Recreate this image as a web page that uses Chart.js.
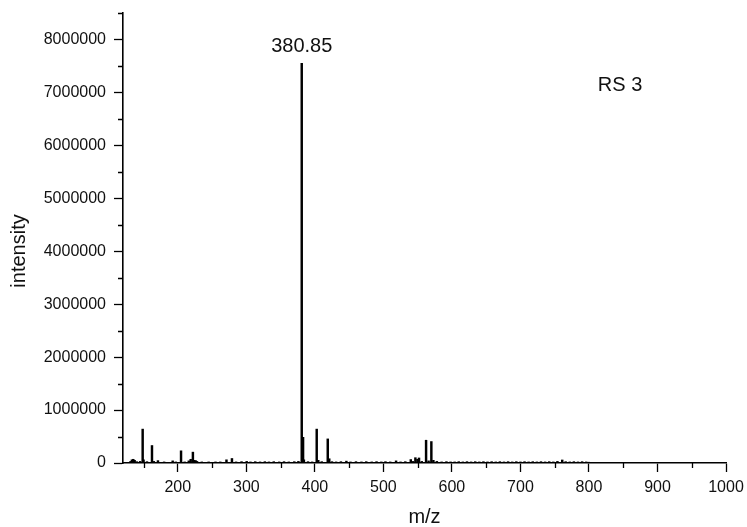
<!DOCTYPE html>
<html>
<head>
<meta charset="utf-8">
<script src="https://cdn.jsdelivr.net/npm/chart.js@4.4.1/dist/chart.umd.min.js"></script>
<style>
  body { margin: 0; background: #fff; }
  #wrap { width: 747px; height: 527px; }
</style>
</head>
<body>
<div id="wrap"><canvas id="myChart" width="747" height="527"></canvas></div>
<script>
// m/z of each stick and its intensity
const mzValues = [
    131, 133, 135, 137, 140, 145, 148.7, 150, 155, 162.3, 165, 171, 180, 192.5, 197,
    204.7, 210, 216, 218.8, 222, 224, 226, 228, 235, 245, 255, 262, 271, 279, 285,
    293, 300.5, 306, 313, 320, 327, 333, 340, 348, 355, 362, 370, 376, 380.85, 382.8,
    384, 390, 396, 402.7, 405, 410, 418.8, 421, 425, 431, 438, 446, 452, 460, 468,
    475, 483, 490, 497, 503, 510, 518.5, 525, 532, 540, 543, 546.7, 549.7, 552, 556,
    562.3, 566, 570, 573, 578, 585, 592, 598, 604, 610, 616, 622, 628, 634, 640,
    646, 652, 658, 664, 670, 676, 682, 688, 694, 700, 706, 712, 718, 724, 730,
    736, 742, 748, 754, 761, 766, 772, 778, 784, 790, 796, 800
];
const intensityValues = [
    30000, 60000, 70000, 50000, 25000, 30000, 640000, 60000, 25000, 330000, 30000, 45000, 20000, 40000, 20000,
    230000, 20000, 40000, 70000, 205000, 50000, 45000, 30000, 20000, 20000, 20000, 20000, 60000, 85000, 20000,
    25000, 30000, 20000, 25000, 20000, 25000, 20000, 25000, 20000, 25000, 20000, 25000, 30000, 7550000, 485000,
    60000, 25000, 20000, 640000, 50000, 25000, 455000, 80000, 25000, 20000, 25000, 35000, 20000, 25000, 20000,
    25000, 20000, 25000, 20000, 25000, 20000, 40000, 20000, 25000, 65000, 30000, 100000, 70000, 95000, 30000,
    430000, 40000, 405000, 50000, 30000, 20000, 25000, 20000, 20000, 25000, 20000, 25000, 20000, 25000, 20000,
    25000, 20000, 25000, 20000, 25000, 20000, 25000, 20000, 25000, 20000, 25000, 20000, 25000, 20000, 25000,
    20000, 25000, 20000, 30000, 57000, 25000, 20000, 25000, 20000, 25000, 20000, 15000
];
const xTicks = [200, 300, 400, 500, 600, 700, 800, 900, 1000];
const yTicks = [0, 1000000, 2000000, 3000000, 4000000, 5000000, 6000000, 7000000, 8000000];
const xMinorTicks = [150, 250, 350, 450, 550, 650, 750, 850, 950];
const yMinorTicks = [500000, 1500000, 2500000, 3500000, 4500000, 5500000, 6500000, 7500000, 8500000];
const peakLabelMz = 380.85;
const peakLabelText = '380.85';
const sampleName = 'RS 3';
const xTitle = 'm/z';
const yTitle = 'intensity';

const points = mzValues.map((mz, i) => ({ x: mz, y: intensityValues[i] }));
const peakIntensity = intensityValues[mzValues.indexOf(peakLabelMz)];

const FONT = '"Liberation Sans", Arial, sans-serif';

const extras = {
    id: 'extras',
    afterDraw(chart) {
        const ctx = chart.ctx;
        const xs = chart.scales.x;
        const ys = chart.scales.y;
        const area = chart.chartArea;
        ctx.save();
        ctx.strokeStyle = '#000';
        ctx.lineWidth = 1.3;
        ctx.beginPath();
        yMinorTicks.forEach(v => {
            const py = Math.round(ys.getPixelForValue(v)) + 0.5;
            ctx.moveTo(area.left, py);
            ctx.lineTo(area.left - 5, py);
        });
        xMinorTicks.forEach(v => {
            const px = Math.round(xs.getPixelForValue(v)) + 0.5;
            ctx.moveTo(px, area.bottom);
            ctx.lineTo(px, area.bottom + 5);
        });
        ctx.stroke();

        ctx.fillStyle = '#111';
        ctx.font = '20px ' + FONT;
        ctx.textAlign = 'center';
        ctx.textBaseline = 'alphabetic';
        ctx.fillText(peakLabelText, xs.getPixelForValue(peakLabelMz), ys.getPixelForValue(peakIntensity) - 11);

        ctx.textAlign = 'left';
        ctx.fillText(sampleName, xs.getPixelForValue(813), ys.getPixelForValue(7030000));

        ctx.translate(19, 251);
        ctx.rotate(-Math.PI / 2);
        ctx.textAlign = 'center';
        ctx.textBaseline = 'middle';
        ctx.fillText(yTitle, 0, 0);
        ctx.restore();
    }
};

const ctx = document.getElementById('myChart').getContext('2d');
new Chart(ctx, {
    type: 'bar',
    data: {
        datasets: [{
            data: points,
            backgroundColor: '#000',
            borderWidth: 0,
            barThickness: 1.8
        }]
    },
    options: {
        responsive: false,
        animation: false,
        devicePixelRatio: 1,
        layout: { padding: { left: 0, top: 13, right: 21, bottom: 0 } },
        plugins: {
            legend: { display: false },
            tooltip: { enabled: false }
        },
        scales: {
            x: {
                type: 'linear',
                min: 120,
                max: 1000,
                offset: false,
                afterFit: scale => {
                    scale.height = 64;
                    scale.paddingLeft = 0;
                    scale.paddingRight = 0;
                },
                afterBuildTicks: scale => { scale.ticks = xTicks.map(v => ({ value: v })); },
                grid: {
                    offset: false,
                    drawOnChartArea: false,
                    drawTicks: true,
                    tickLength: 9,
                    tickWidth: 1.3,
                    tickColor: '#000'
                },
                border: { display: true, color: '#000', width: 1.6 },
                ticks: {
                    padding: 6,
                    color: '#111',
                    maxRotation: 0,
                    autoSkip: false,
                    callback: v => String(v),
                    font: { family: FONT, size: 16 }
                },
                title: {
                    display: true,
                    text: xTitle,
                    color: '#111',
                    padding: { top: 0, bottom: 0 },
                    font: { family: FONT, size: 20, lineHeight: 1 }
                }
            },
            y: {
                min: 0,
                max: 8500000,
                afterFit: scale => {
                    scale.width = 123;
                    scale.paddingTop = 0;
                    scale.paddingBottom = 0;
                },
                afterBuildTicks: scale => { scale.ticks = yTicks.map(v => ({ value: v })); },
                grid: {
                    drawOnChartArea: false,
                    drawTicks: true,
                    tickLength: 9,
                    tickWidth: 1.3,
                    tickColor: '#000'
                },
                border: { display: true, color: '#000', width: 1.6 },
                ticks: {
                    padding: 8,
                    color: '#111',
                    autoSkip: false,
                    callback: v => String(v),
                    font: { family: FONT, size: 16 }
                }
            }
        }
    },
    plugins: [extras]
});
</script>
</body>
</html>
